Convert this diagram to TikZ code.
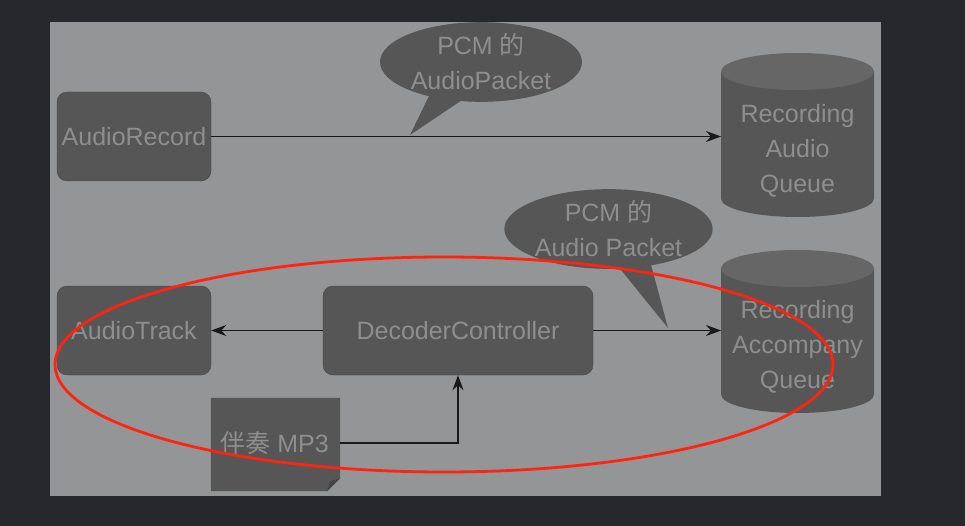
\documentclass[tikz,border=0pt]{standalone}
\usepackage{fontspec}
\setmainfont{Liberation Sans}
\newfontfamily\cjk{Noto Sans CJK SC}
\usetikzlibrary{arrows.meta,shapes.geometric}
\definecolor{outerbg}{HTML}{27282B}
\definecolor{panel}{HTML}{949596}
\definecolor{boxfill}{HTML}{565656}
\definecolor{cyltop}{HTML}{666666}
\definecolor{txt}{HTML}{8E8E8E}
\definecolor{foldc}{HTML}{444444}
\definecolor{redline}{HTML}{FF2410}
\tikzset{
  box/.style={rectangle, rounded corners=10pt, fill=boxfill, draw=boxfill!85!black, line width=0.4pt,
    minimum width=154pt, minimum height=89pt, inner sep=0pt, text=txt, font=\fontsize{25}{35}\selectfont},
  bubble/.style={ellipse, fill=boxfill, inner sep=0pt, text=txt, align=center,
    font=\fontsize{25}{35}\selectfont},
  cyltext/.style={rectangle, inner sep=0pt, text=txt, align=center,
    font=\fontsize{25}{35}\selectfont},
  arr/.style={draw=black!90, line width=1.6pt, -{Stealth[length=15pt,width=11pt]}},
}
\begin{document}
\begin{tikzpicture}[x=1pt,y=-1pt]
\useasboundingbox (0,0) rectangle (965,526);
\fill[outerbg] (0,0) rectangle (965,526);
\fill[panel] (50,22) rectangle (881,496);

% cylinders
\fill[boxfill] (721,71.5) -- (721,198.5) arc[start angle=180, end angle=360, x radius=76.5pt, y radius=18.5pt] -- (874,71.5) -- cycle;
\fill[cyltop] (797.5,71.5) ellipse [x radius=76.5pt, y radius=18.5pt];
\fill[boxfill] (721,268.5) -- (721,394.5) arc[start angle=180, end angle=360, x radius=76.5pt, y radius=18.5pt] -- (874,268.5) -- cycle;
\fill[cyltop] (797.5,268.5) ellipse [x radius=76.5pt, y radius=18.5pt];
\node[cyltext] (qa) at (797.5,151) {Recording\\Audio\\Queue};
\node[cyltext] (qb) at (797.5,347) {Recording\\Accompany\\Queue};
\coordinate (qain) at (721,136);
\coordinate (qbin) at (721,330);

% boxes
\node[box] (rec) at (134,136.5) {AudioRecord};
\node[box] (track) at (134,330.5) {AudioTrack};
\node[box, minimum width=270pt] (dec) at (458,330.5) {DecoderController};

% mp3 file
\node[rectangle, minimum width=129pt, minimum height=93pt, inner sep=0pt] (mp3) at (275.5,444.5) {};
\fill[boxfill] (mp3.north west) -- (mp3.north east) -- ([yshift=13pt]mp3.south east)
  -- ([xshift=-13pt]mp3.south east) -- (mp3.south west) -- cycle;
\fill[foldc] ([yshift=13pt]mp3.south east) -- ([xshift=-13pt]mp3.south east) -- ([xshift=-10pt,yshift=10pt]mp3.south east) -- cycle;
\node[text=txt, font=\fontsize{25}{35}\selectfont, inner sep=0pt] (mp3t) at (274.5,443) {{\cjk 伴奏} MP3};

% bubbles
\node[bubble, minimum width=202pt, minimum height=76pt] (bubA) at (481,62) {PCM {\cjk 的}\\AudioPacket};
\fill[boxfill] (410,135) -- (430,94) -- (468,96) -- cycle;
\node[bubble, minimum width=203pt, minimum height=72pt] (bubB) at (608.5,229) {PCM {\cjk 的}\\Audio Packet};
\fill[boxfill] (668,328) -- (613,260) -- (650,261) -- cycle;

% connectors
\draw[arr] (rec.east) -- (rec.east -| qain);
\draw[arr] (dec.east) -- (dec.east -| qbin);
\draw[arr] (dec.west) -- (track.east);
\draw[arr] (mp3.east |- mp3t.east) -| (dec.south);

% red ellipse
\draw[redline, line width=2.8pt] (444,364.5) ellipse [x radius=389pt, y radius=107.5pt];
\end{tikzpicture}
\end{document}
